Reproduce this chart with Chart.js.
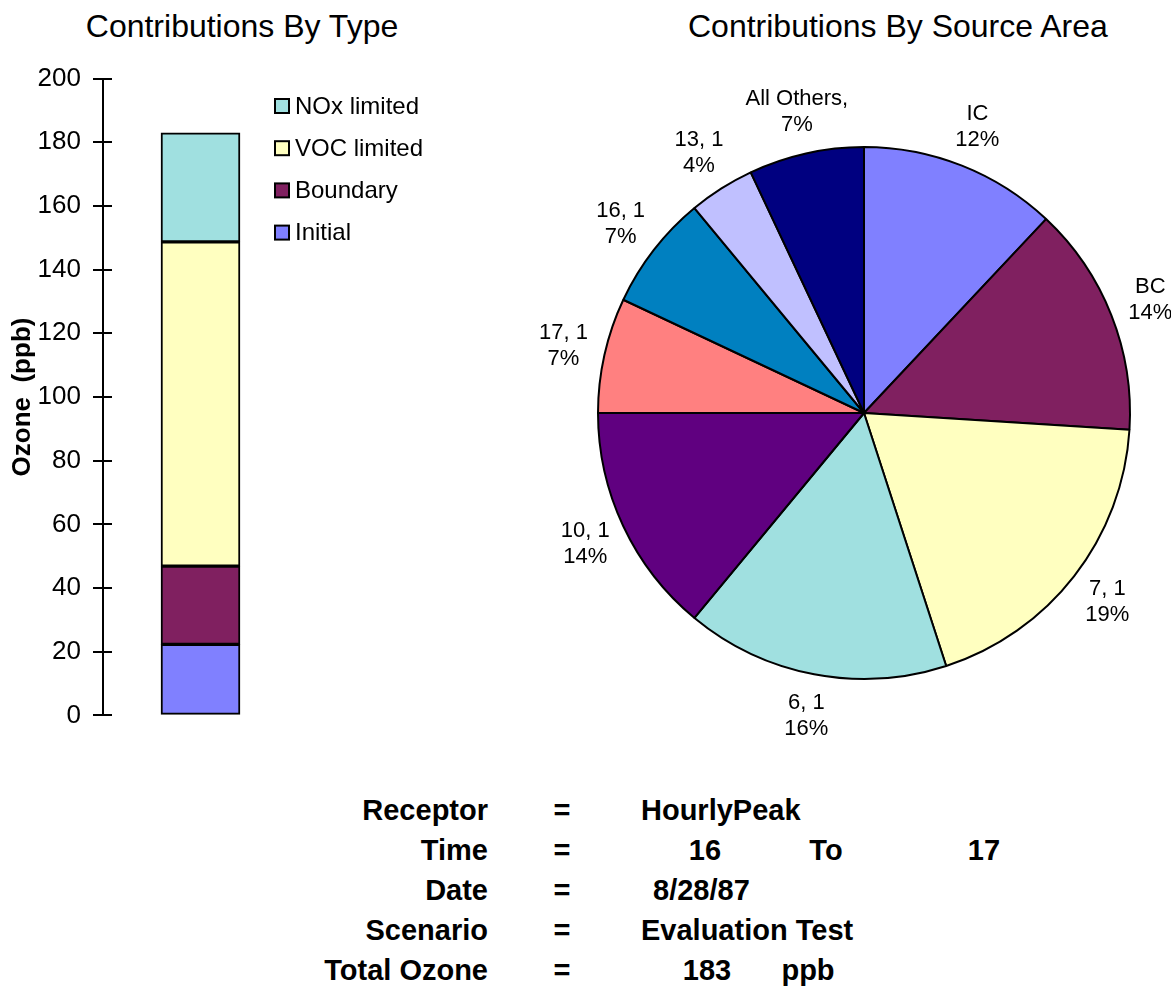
<!DOCTYPE html>
<html>
<head>
<meta charset="utf-8">
<script src="https://cdn.jsdelivr.net/npm/chart.js@4.4.1/dist/chart.umd.min.js"></script>
<style>
  body { margin: 0; background: #fff; width: 1171px; height: 988px; overflow: hidden; position: relative;
         font-family: Arial, "Liberation Sans", sans-serif; color: #000; }
  .title { position: absolute; font-size: 32px; line-height: 1; text-align: center; white-space: nowrap; }
  #barBox { position: absolute; left: 0; top: 51px; width: 450px; height: 692px; }
  #pieBox { position: absolute; left: 500px; top: 50px; width: 671px; height: 730px; }
  #info { position: absolute; left: 0; top: 796px; width: 1171px; font-weight: bold; font-size: 29px; line-height: 1; }
  #info .row { position: relative; height: 40px; }
  #info span { position: absolute; top: 0; white-space: nowrap; }
</style>
</head>
<body>
<div class="title" style="left:42px;width:400px;top:10px;">Contributions By Type</div>
<div class="title" style="left:688px;width:400px;top:10px;">Contributions By Source Area</div>
<div id="barBox"><canvas id="barChart"></canvas></div>
<div id="pieBox"><canvas id="pieChart"></canvas></div>
<div id="info"></div>

<script>
// ozone contribution by type (ppb)
var typeNames = ["Initial", "Boundary", "VOC limited", "NOx limited"];
var typeValues = [22.3, 24.6, 101.8, 34.3];
var typeColors = ["#8080FF", "#802060", "#FFFFC0", "#A0E0E0"];
var yTicks = [0, 20, 40, 60, 80, 100, 120, 140, 160, 180, 200];

// contribution by source area (percent)
var areaNames = ["IC", "BC", "7, 1", "6, 1", "10, 1", "17, 1", "16, 1", "13, 1", "All Others,"];
var areaValues = [12, 14, 19, 16, 14, 7, 7, 4, 7];
var areaColors = ["#8080FF", "#802060", "#FFFFC0", "#A0E0E0", "#600080", "#FF8080", "#0080C0", "#C0C0FF", "#000080"];

var receptor = "HourlyPeak";
var hourFrom = 16, hourTo = 17;
var runDate = "8/28/87";
var scenario = "Evaluation Test";

var FONT = "Arial, 'Liberation Sans', sans-serif";
Chart.defaults.font.family = FONT;
Chart.defaults.color = "#000";

// legend to the right of the bar (top entry = last dataset) + inner half of the y ticks
var typeLegend = {
  id: 'typeLegend',
  afterDraw: function (chart) {
    var ctx = chart.ctx;
    var ds = chart.data.datasets;
    var y = chart.scales.y;
    ctx.save();
    ctx.strokeStyle = "#000";
    ctx.lineWidth = 2;
    y.ticks.forEach(function (t) {
      var py = Math.round(y.getPixelForValue(t.value));
      ctx.beginPath();
      ctx.moveTo(y.right, py);
      ctx.lineTo(y.right + 9, py);
      ctx.stroke();
    });
    ctx.font = "24px " + FONT;
    ctx.textBaseline = "middle";
    ctx.textAlign = "left";
    for (var i = 0; i < ds.length; i++) {
      var d = ds[ds.length - 1 - i];
      var ly = 55 + i * 42.2;
      ctx.fillStyle = d.backgroundColor;
      ctx.fillRect(275, ly - 7, 14, 14);
      ctx.strokeRect(275, ly - 7, 14, 14);
      ctx.fillStyle = "#000";
      ctx.fillText(d.label, 295, ly + 1);
    }
    ctx.restore();
  }
};

function render_bar() {
  var ctx = document.getElementById("barChart").getContext('2d');
  new Chart(ctx, {
    type: 'bar',
    data: {
      labels: [""],
      datasets: typeNames.map(function (n, i) {
        return {
          label: n,
          data: [typeValues[i]],
          backgroundColor: typeColors[i],
          borderColor: "#000",
          borderWidth: 2,
          borderSkipped: false,
          barThickness: 79
        };
      })
    },
    options: {
      responsive: true,
      maintainAspectRatio: false,
      animation: false,
      layout: { padding: { top: 9, bottom: 24, right: 152, left: 0 } },
      plugins: { legend: { display: false }, tooltip: { enabled: false } },
      scales: {
        x: { stacked: true, display: false },
        y: {
          stacked: true,
          min: 0, max: 200,
          afterFit: function (s) { s.width = 103; },
          afterBuildTicks: function (s) { s.ticks = yTicks.map(function (v) { return { value: v }; }); },
          ticks: { font: { size: 26 }, padding: 12, color: "#000" },
          grid: { drawOnChartArea: false, tickLength: 10, color: "#000", lineWidth: 2 },
          border: { display: true, color: "#000", width: 2 },
          title: {
            display: true,
            text: "Ozone  (ppb)",
            font: { size: 26, weight: 'bold' },
            color: "#000",
            padding: { top: 7, bottom: 0 }
          }
        }
      }
    },
    plugins: [typeLegend]
  });
}

// name and percent written outside each slice
var sliceLabels = {
  id: 'sliceLabels',
  afterDatasetsDraw: function (chart) {
    var ctx = chart.ctx;
    var meta = chart.getDatasetMeta(0);
    var vals = chart.data.datasets[0].data;
    var total = vals.reduce(function (a, b) { return a + b; }, 0);
    ctx.save();
    ctx.font = "22px " + FONT;
    ctx.textAlign = "center";
    ctx.textBaseline = "middle";
    ctx.fillStyle = "#000";
    meta.data.forEach(function (arc, i) {
      var p = arc.getProps(['x', 'y', 'startAngle', 'endAngle', 'outerRadius'], true);
      var mid = (p.startAngle + p.endAngle) / 2;
      var d = p.outerRadius + 42;
      var tx = p.x + Math.cos(mid) * d;
      var ty = p.y + Math.sin(mid) * d;
      ctx.fillText(chart.data.labels[i], tx, ty - 13);
      ctx.fillText(Math.round(vals[i] / total * 100) + "%", tx, ty + 13);
    });
    ctx.restore();
  }
};

function render_pie() {
  var ctx = document.getElementById("pieChart").getContext('2d');
  new Chart(ctx, {
    type: 'pie',
    data: {
      labels: areaNames,
      datasets: [{
        data: areaValues,
        backgroundColor: areaColors,
        borderColor: "#000",
        borderWidth: 2
      }]
    },
    options: {
      responsive: true,
      maintainAspectRatio: false,
      animation: false,
      layout: { padding: { top: 96, left: 97, right: 40, bottom: 100 } },
      plugins: { legend: { display: false }, tooltip: { enabled: false } }
    },
    plugins: [sliceLabels]
  });
}

function add_info_row(cells) {
  var row = document.createElement("div");
  row.className = "row";
  cells.forEach(function (c) {
    var s = document.createElement("span");
    s.textContent = c[0];
    if (c[2] === "r") { s.style.right = (1171 - c[1]) + "px"; }
    else if (c[2] === "c") { s.style.left = c[1] + "px"; s.style.transform = "translateX(-50%)"; }
    else { s.style.left = c[1] + "px"; }
    row.appendChild(s);
  });
  document.getElementById("info").appendChild(row);
}

function render_info() {
  var total = typeValues.reduce(function (a, b) { return a + b; }, 0);
  add_info_row([["Receptor", 488, "r"], ["=", 562, "c"], [receptor, 641, "l"]]);
  add_info_row([["Time", 488, "r"], ["=", 562, "c"], [String(hourFrom), 705, "c"], ["To", 826, "c"], [String(hourTo), 984, "c"]]);
  add_info_row([["Date", 488, "r"], ["=", 562, "c"], [runDate, 653, "l"]]);
  add_info_row([["Scenario", 488, "r"], ["=", 562, "c"], [scenario, 641, "l"]]);
  add_info_row([["Total Ozone", 488, "r"], ["=", 562, "c"], [String(Math.round(total)), 707, "c"], ["ppb", 808, "c"]]);
}

render_bar();
render_pie();
render_info();
</script>
</body>
</html>
